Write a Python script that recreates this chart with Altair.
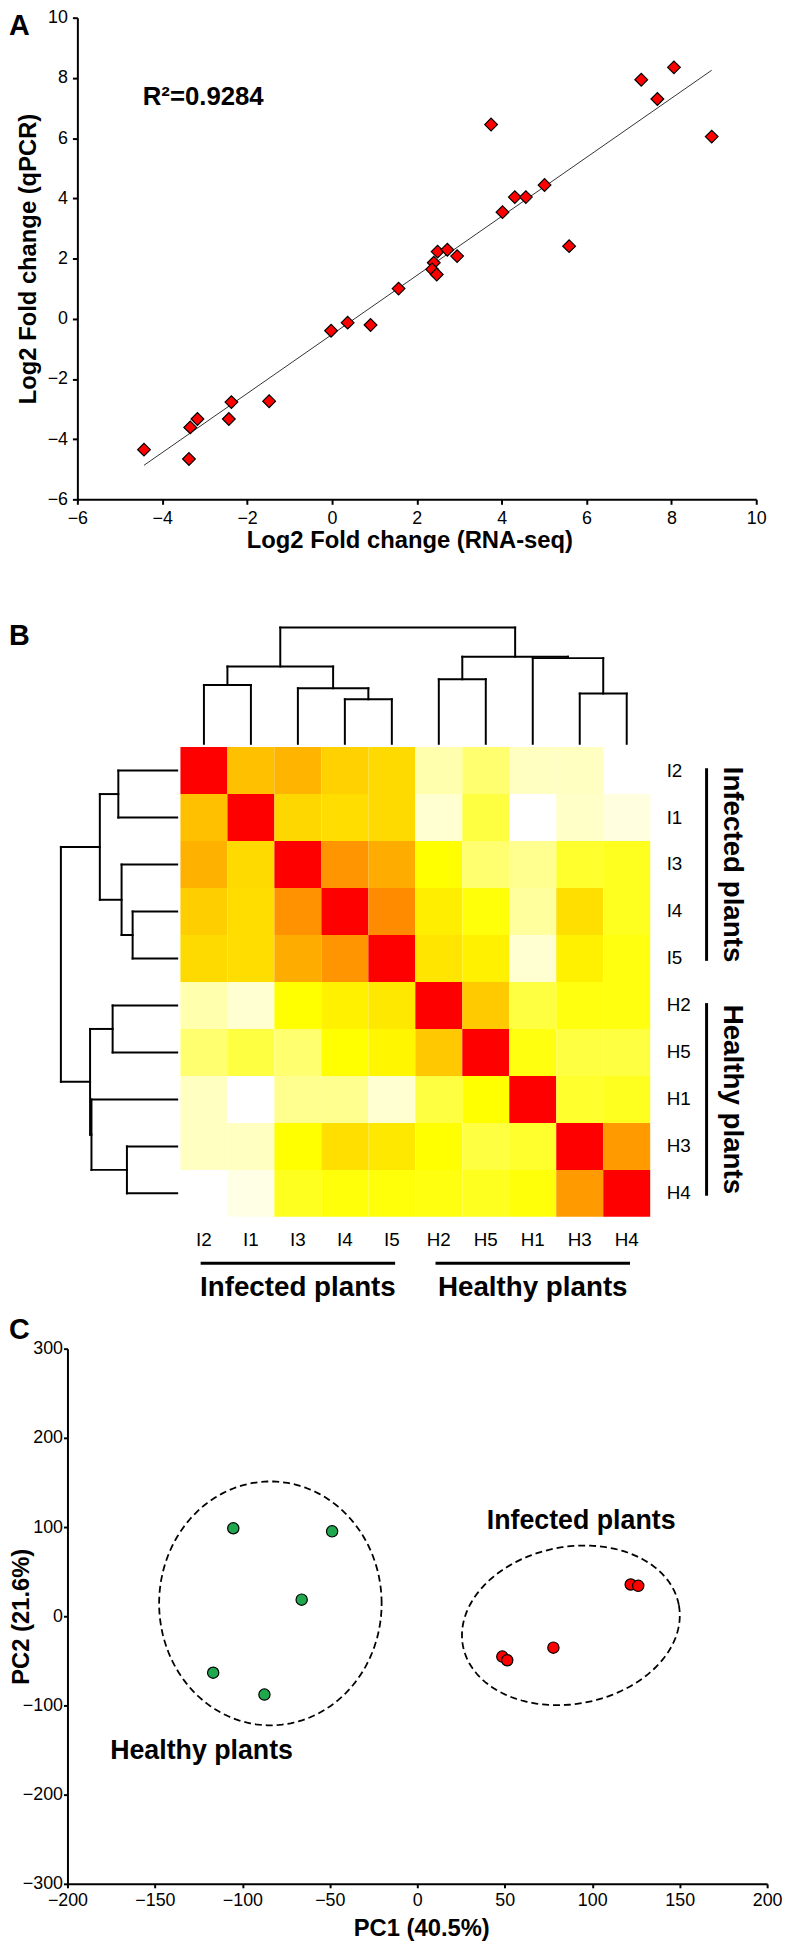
import altair as alt
import numpy as np
import pandas as pd

FONT = "Liberation Sans"

# ================= Panel A data (log2 fold changes) =================
rnaseq_log2fc = [-4.43, -3.34, -3.17, -3.37, -2.37, -2.43, -1.48, -0.02, 0.37, 0.91,
                 1.57, 2.40, 2.36, 2.47, 2.49, 2.72, 2.95, 3.75, 4.02, 4.31,
                 4.57, 5.01, 5.59, 7.29, 7.67, 8.06, 8.95]
qpcr_log2fc = [-4.35, -3.61, -3.33, -4.66, -2.77, -3.33, -2.74, -0.40, -0.13, -0.21,
               1.00, 1.86, 1.64, 1.47, 2.23, 2.29, 2.08, 6.45, 3.54, 4.04,
               4.04, 4.44, 2.41, 7.94, 7.30, 8.35, 6.05]
r2_label = "R²=0.9284"
a_ticks = [-6, -4, -2, 0, 2, 4, 6, 8, 10]

# ================= Panel B data (sample similarity + clustering) =================
samples = ["I2", "I1", "I3", "I4", "I5", "H2", "H5", "H1", "H3", "H4"]
similarity = [
    [1.00, 0.72, 0.76, 0.66, 0.63, 0.16, 0.28, 0.12, 0.12, 0.00],
    [0.72, 1.00, 0.64, 0.62, 0.63, 0.09, 0.37, 0.00, 0.11, 0.06],
    [0.77, 0.63, 1.00, 0.87, 0.79, 0.50, 0.28, 0.22, 0.41, 0.44],
    [0.67, 0.62, 0.88, 1.00, 0.90, 0.56, 0.48, 0.19, 0.61, 0.44],
    [0.63, 0.62, 0.79, 0.87, 1.00, 0.59, 0.55, 0.09, 0.55, 0.47],
    [0.16, 0.09, 0.50, 0.55, 0.58, 1.00, 0.68, 0.37, 0.47, 0.47],
    [0.28, 0.37, 0.28, 0.50, 0.53, 0.69, 1.00, 0.47, 0.37, 0.37],
    [0.12, 0.00, 0.22, 0.22, 0.09, 0.37, 0.50, 1.00, 0.41, 0.44],
    [0.12, 0.12, 0.50, 0.61, 0.58, 0.50, 0.37, 0.41, 1.00, 0.85],
    [0.00, 0.05, 0.44, 0.48, 0.48, 0.47, 0.44, 0.48, 0.85, 1.00],
]
link_children = [["I2", "I1"], ["I4", "I5"], ["I3", "m1"], ["m0", "m2"],
                 ["H2", "H5"], ["H3", "H4"], ["H1", "m5"], ["m4", "m6"], ["m3", "m7"]]
link_heights = [0.506, 0.383, 0.478, 0.665, 0.555, 0.432, 0.737, 0.749, 1.0]
group_names = ["Infected plants", "Healthy plants"]
group_first = [0, 5]
group_last = [4, 9]

# ================= Panel C data (PCA) =================
healthy_pc1 = [-105.2, -48.7, -66.1, -116.7, -87.4]
healthy_pc2 = [98.6, 95.2, 18.6, -63.3, -87.8]
infected_pc1 = [122.0, 126.3, 77.8, 48.6, 51.4]
infected_pc2 = [35.6, 34.1, -35.2, -45.2, -49.3]
ellipse_names = ["Healthy plants", "Infected plants"]
ellipse_cx = [-84.0, 87.8]
ellipse_cy = [14.4, -10.2]
ellipse_ax = [63.6, 61.7]
ellipse_ay = [0.0, 22.9]
ellipse_bx = [0.0, -8.3]
ellipse_by = [136.7, 86.5]
c_xticks = [-200, -150, -100, -50, 0, 50, 100, 150, 200]
c_yticks = [-300, -200, -100, 0, 100, 200, 300]

# ================= Layout =================
A_W, A_H = 685, 486
B_W, B_H = 685, 649
C_W, C_H = 685, 540

# ---------------- Panel A ----------------
dfA = pd.DataFrame({"rna": rnaseq_log2fc, "qpcr": qpcr_log2fc})
sxA = alt.Scale(domain=[-6, 10], nice=False, zero=False)
syA = alt.Scale(domain=[-6, 10], nice=False, zero=False)
axA_x = alt.Axis(values=a_ticks, title="Log2 Fold change (RNA-seq)", tickSize=5, labelPadding=5,
                 titleX=335, titleY=49, titleBaseline="alphabetic", titleAlign="center",
                 labelFlush=False, labelOverlap=False)
axA_y = alt.Axis(values=a_ticks, title="Log2 Fold change (qPCR)", tickSize=5, labelPadding=5,
                 titleX=-42, titleY=A_H / 2, titleBaseline="alphabetic", titleAlign="center",
                 labelFlush=False, labelOverlap=False)


def encA():
    return dict(x=alt.X("rna:Q", scale=sxA, axis=axA_x), y=alt.Y("qpcr:Q", scale=syA, axis=axA_y))


regA = alt.Chart(dfA).transform_regression("rna", "qpcr").mark_line(
    color="#333333", strokeWidth=1).encode(**encA())
ptsA = alt.Chart(dfA).mark_point(shape="diamond", filled=True, fill="#ff0000", stroke="black",
                                 strokeWidth=1.2, size=165, opacity=1).encode(**encA())
r2A = alt.Chart(pd.DataFrame({"rna": [-4.46], "qpcr": [7.09], "t": [r2_label]})).mark_text(
    align="left", baseline="alphabetic", fontSize=26, fontWeight="bold", color="black"
).encode(text="t:N", **encA())
letA = alt.Chart(pd.DataFrame({"rna": [-7.612], "qpcr": [9.44], "t": ["A"]})).mark_text(
    align="left", baseline="alphabetic", fontSize=29, fontWeight="bold", color="black"
).encode(text="t:N", **encA())
panelA = alt.layer(regA, ptsA, r2A, letA).properties(width=A_W, height=A_H)

# ---------------- Panel B ----------------
n = len(samples)
heat = pd.DataFrame([{"x": j, "x2": j + 1, "y": i, "y2": i + 1, "value": similarity[i][j]}
                     for i in range(n) for j in range(n)])

pos = {s: i + 0.5 for i, s in enumerate(samples)}
hgt = {s: 0.0 for s in samples}
segs = []
for k, (ch, h) in enumerate(zip(link_children, link_heights)):
    ps = [pos[c] for c in ch]
    for c in ch:
        segs.append((pos[c], hgt[c], pos[c], h))
    segs.append((min(ps), h, max(ps), h))
    pos["m%d" % k] = sum(ps) / len(ps)
    hgt["m%d" % k] = h

GAP, DSC = 0.07, 2.475


def hmap(h):
    return -(GAP + h * DSC)


top_df = pd.DataFrame([{"x": p1, "y": hmap(h1), "x2": p2, "y2": hmap(h2)} for p1, h1, p2, h2 in segs])
left_df = pd.DataFrame([{"x": hmap(h1), "y": p1, "x2": hmap(h2), "y2": p2} for p1, h1, p2, h2 in segs])

sxB = alt.Scale(domain=[0, 10], range=[104, 578], nice=False, zero=False)
syB = alt.Scale(domain=[0, 10], range=[146, 620], nice=False, zero=False)


def encB(with2=False):
    d = dict(x=alt.X("x:Q", scale=sxB, axis=None), y=alt.Y("y:Q", scale=syB, axis=None))
    if with2:
        d["x2"] = alt.X2("x2:Q")
        d["y2"] = alt.Y2("y2:Q")
    return d


heatB = alt.Chart(heat).mark_rect(strokeWidth=0).encode(
    color=alt.Color("value:Q", scale=alt.Scale(domain=[0, 0.5, 0.9, 1.0],
                                               range=["#ffffff", "#ffff00", "#ff8c00", "#ff0000"],
                                               interpolate="rgb"), legend=None),
    **encB(True))
dendTop = alt.Chart(top_df).mark_rule(color="black", strokeWidth=2, strokeCap="square").encode(**encB(True))
dendLeft = alt.Chart(left_df).mark_rule(color="black", strokeWidth=2, strokeCap="square").encode(**encB(True))

rowlab = alt.Chart(pd.DataFrame({"x": [10.35] * n, "y": [i + 0.5 for i in range(n)], "t": samples})).mark_text(
    align="left", baseline="middle", fontSize=19, color="black").encode(text="t:N", **encB())
collab = alt.Chart(pd.DataFrame({"x": [i + 0.5 for i in range(n)], "y": [10.5] * n, "t": samples})).mark_text(
    align="center", baseline="middle", fontSize=19, color="black").encode(text="t:N", **encB())

vbr = pd.DataFrame({"x": [11.2, 11.2], "x2": [11.2, 11.2],
                    "y": [f + 0.45 for f in group_first], "y2": [l + 0.55 for l in group_last]})
hbr = pd.DataFrame({"y": [10.99, 10.99], "y2": [10.99, 10.99],
                    "x": [f + 0.43 for f in group_first], "x2": [l + 0.57 for l in group_last]})
brackets = alt.Chart(pd.concat([vbr, hbr], ignore_index=True)).mark_rule(
    color="black", strokeWidth=3).encode(**encB(True))
gtxt_r = alt.Chart(pd.DataFrame({"x": [11.75, 11.75],
                                 "y": [(f + l + 1) / 2 for f, l in zip(group_first, group_last)],
                                 "t": group_names})).mark_text(
    angle=90, align="center", baseline="middle", fontSize=28, fontWeight="bold", color="black"
).encode(text="t:N", **encB())
gtxt_b = alt.Chart(pd.DataFrame({"x": [(f + l + 1) / 2 for f, l in zip(group_first, group_last)],
                                 "y": [11.69, 11.69], "t": group_names})).mark_text(
    align="center", baseline="alphabetic", fontSize=28, fontWeight="bold", color="black"
).encode(text="t:N", **encB())
letB = alt.Chart(pd.DataFrame({"x": [-3.65], "y": [-2.173], "t": ["B"]})).mark_text(
    align="left", baseline="alphabetic", fontSize=29, fontWeight="bold", color="black"
).encode(text="t:N", **encB())
panelB = alt.layer(heatB, dendTop, dendLeft, rowlab, collab, brackets, gtxt_r, gtxt_b, letB).properties(
    width=B_W, height=B_H)

# ---------------- Panel C ----------------
dfH = pd.DataFrame({"pc1": healthy_pc1, "pc2": healthy_pc2})
dfI = pd.DataFrame({"pc1": infected_pc1, "pc2": infected_pc2})
tt = np.linspace(0, 2 * np.pi, 241)
ell_rows = []
for nm, cx, cy, ax_, ay_, bx_, by_ in zip(ellipse_names, ellipse_cx, ellipse_cy, ellipse_ax,
                                          ellipse_ay, ellipse_bx, ellipse_by):
    for k, t in enumerate(tt):
        ell_rows.append({"g": nm, "k": k,
                         "pc1": cx + ax_ * np.cos(t) + bx_ * np.sin(t),
                         "pc2": cy + ay_ * np.cos(t) + by_ * np.sin(t)})
dfE = pd.DataFrame(ell_rows)

sxC = alt.Scale(domain=[-200, 200], range=[-10, 696], nice=False, zero=False)
syC = alt.Scale(domain=[-300, 300], nice=False, zero=False)
axC_x = alt.Axis(values=c_xticks, title="PC1 (40.5%)", tickSize=4, labelPadding=4,
                 titleX=347, titleY=52, titleBaseline="alphabetic", titleAlign="center",
                 labelFlush=False, labelOverlap=False)
axC_y = alt.Axis(values=c_yticks, title="PC2 (21.6%)", tickSize=4, labelPadding=1, offset=10,
                 titleX=-39, titleY=C_H / 2, titleBaseline="alphabetic", titleAlign="center",
                 labelFlush=False, labelOverlap=False)


def encC():
    return dict(x=alt.X("pc1:Q", scale=sxC, axis=axC_x), y=alt.Y("pc2:Q", scale=syC, axis=axC_y))


ellC = alt.Chart(dfE).mark_line(color="black", strokeWidth=1.8, strokeDash=[7, 4]).encode(
    detail="g:N", order="k:Q", **encC())
ptsH = alt.Chart(dfH).mark_circle(color="#1fa84e", stroke="black", strokeWidth=1.2, size=130,
                                  opacity=1).encode(**encC())
ptsI = alt.Chart(dfI).mark_circle(color="#ff0000", stroke="black", strokeWidth=1.2, size=130,
                                  opacity=1).encode(**encC())
labC = alt.Chart(pd.DataFrame({"pc1": [-175.6, 39.7], "pc2": [-159.6, 97.8],
                               "t": ["Healthy plants", "Infected plants"]})).mark_text(
    align="left", baseline="alphabetic", fontSize=27, fontWeight="bold", color="black"
).encode(text="t:N", **encC())
letC = alt.Chart(pd.DataFrame({"pc1": [-233.4], "pc2": [311.1], "t": ["C"]})).mark_text(
    align="left", baseline="alphabetic", fontSize=29, fontWeight="bold", color="black"
).encode(text="t:N", **encC())
panelC = alt.layer(ellC, ptsH, ptsI, labC, letC).properties(width=C_W, height=C_H)

chart = alt.vconcat(panelA, panelB, panelC, spacing=104, bounds="flush").properties(
    padding={"left": 0, "top": -9, "right": 0, "bottom": 0}, background="white"
).configure(font=FONT).configure_view(stroke="transparent").configure_axis(
    domainColor="black", domainWidth=2, tickColor="black", tickWidth=2,
    labelColor="black", labelFontSize=18, labelFont=FONT,
    titleColor="black", titleFontSize=24, titleFontWeight="bold", titleFont=FONT, grid=False
)

chart.save("out.html", embed_options={"renderer": "svg", "actions": False})
